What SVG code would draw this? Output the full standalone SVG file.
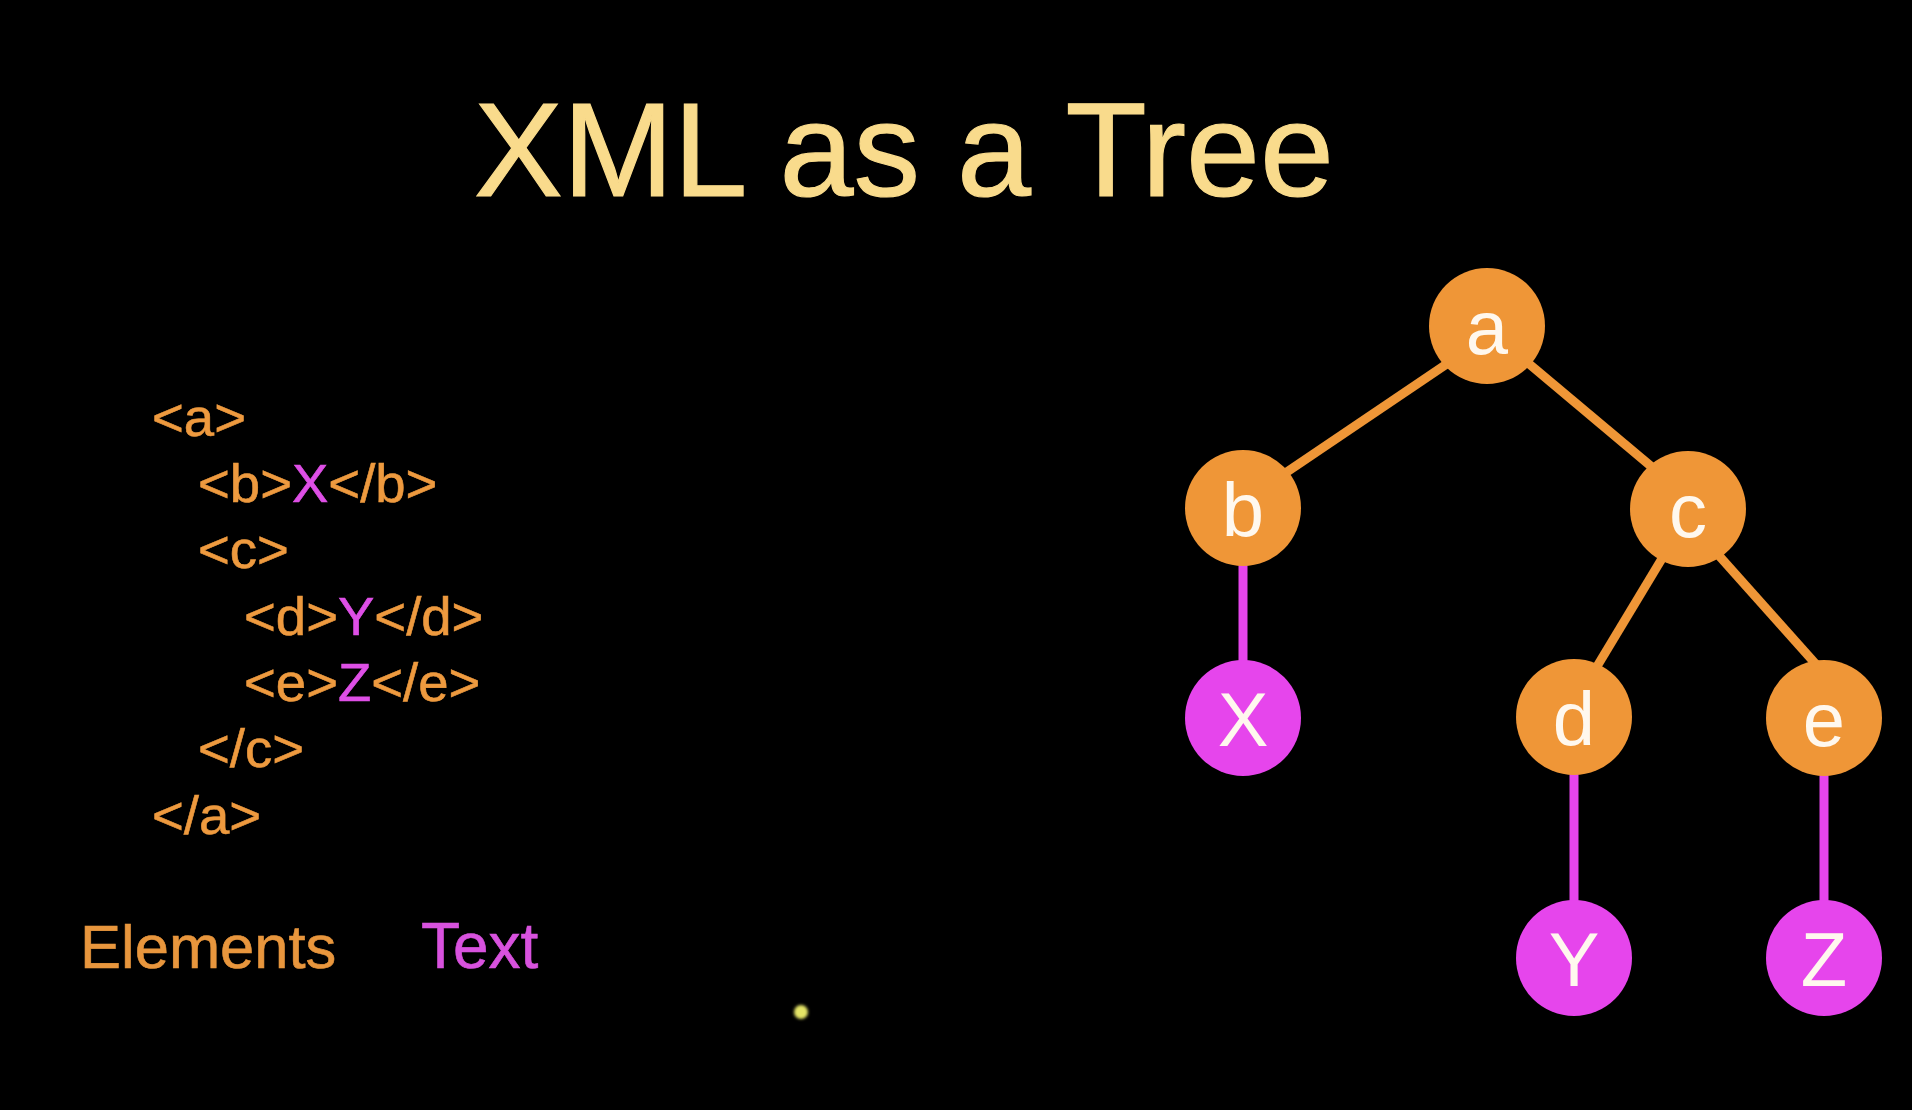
<svg xmlns="http://www.w3.org/2000/svg" width="1912" height="1110" viewBox="0 0 1912 1110">
  <style>
    .title { font-family: "Liberation Sans", Arial, sans-serif; font-size: 133px; fill: #F9DB8C; stroke: #F9DB8C; stroke-width: 1.2; }
    .code { font-family: "Liberation Sans", Arial, sans-serif; font-size: 54.5px; fill: #EE9A3F; stroke: #EE9A3F; stroke-width: 0.6; }
    .txt { fill: #DE4FE6; stroke: #DE4FE6; }
    .legend { font-family: "Liberation Sans", Arial, sans-serif; stroke-width: 0.6; }
    .el { fill: #EF9637; }
    .tx { fill: #E645EC; }
    .lbl { font-family: "Liberation Sans", Arial, sans-serif; font-size: 76px; fill: #FFF8EE; text-anchor: middle; }
    .edge-el { stroke: #EF9637; stroke-width: 9; fill: none; }
    .edge-tx { stroke: #E645EC; stroke-width: 9; fill: none; }
  </style>
  <defs>
    <filter id="soft" x="-50%" y="-50%" width="200%" height="200%">
      <feGaussianBlur stdDeviation="1.5"/>
    </filter>
  </defs>

  <rect x="0" y="0" width="1912" height="1110" fill="#000"/>

  <text class="title" x="474" y="196">XML as a Tree</text>

  <!-- XML source listing -->
  <g id="listing">
    <text class="code" x="152" y="436">&lt;a&gt;</text>
    <text class="code" x="198" y="502">&lt;b&gt;<tspan class="txt">X</tspan>&lt;/b&gt;</text>
    <text class="code" x="198" y="568">&lt;c&gt;</text>
    <text class="code" x="244" y="635">&lt;d&gt;<tspan class="txt">Y</tspan>&lt;/d&gt;</text>
    <text class="code" x="244" y="701">&lt;e&gt;<tspan class="txt">Z</tspan>&lt;/e&gt;</text>
    <text class="code" x="198" y="767">&lt;/c&gt;</text>
    <text class="code" x="152" y="834">&lt;/a&gt;</text>
  </g>

  <!-- legend -->
  <g id="legend">
    <text class="legend" x="80" y="968" font-size="61.5" fill="#E8963D" stroke="#E8963D">Elements</text>
    <text class="legend" x="421" y="968" font-size="64" fill="#D852DE" stroke="#D852DE">Text</text>
  </g>

  <!-- pointer dot -->
  <circle cx="801" cy="1012" r="7" fill="#E4E466" filter="url(#soft)"/>

  <!-- tree edges -->
  <g id="connectors">
    <line class="edge-el" x1="1460" y1="355" x2="1275" y2="480"/>
    <line class="edge-el" x1="1510" y1="348" x2="1665" y2="478"/>
    <line class="edge-el" x1="1675" y1="537" x2="1590" y2="678"/>
    <line class="edge-el" x1="1705" y1="540" x2="1830" y2="680"/>
    <line class="edge-tx" x1="1243" y1="508" x2="1243" y2="718"/>
    <line class="edge-tx" x1="1574" y1="717" x2="1574" y2="958"/>
    <line class="edge-tx" x1="1824" y1="718" x2="1824" y2="958"/>
  </g>

  <!-- tree nodes -->
  <g id="node-a"><circle class="el" cx="1487" cy="326" r="58"/><text class="lbl" x="1487" y="354">a</text></g>
  <g id="node-b"><circle class="el" cx="1243" cy="508" r="58"/><text class="lbl" x="1243" y="536">b</text></g>
  <g id="node-c"><circle class="el" cx="1688" cy="509" r="58"/><text class="lbl" x="1688" y="537">c</text></g>
  <g id="node-X"><circle class="tx" cx="1243" cy="718" r="58"/><text class="lbl" x="1243" y="746">X</text></g>
  <g id="node-d"><circle class="el" cx="1574" cy="717" r="58"/><text class="lbl" x="1574" y="745">d</text></g>
  <g id="node-e"><circle class="el" cx="1824" cy="718" r="58"/><text class="lbl" x="1824" y="746">e</text></g>
  <g id="node-Y"><circle class="tx" cx="1574" cy="958" r="58"/><text class="lbl" x="1574" y="986">Y</text></g>
  <g id="node-Z"><circle class="tx" cx="1824" cy="958" r="58"/><text class="lbl" x="1824" y="986">Z</text></g>
</svg>
